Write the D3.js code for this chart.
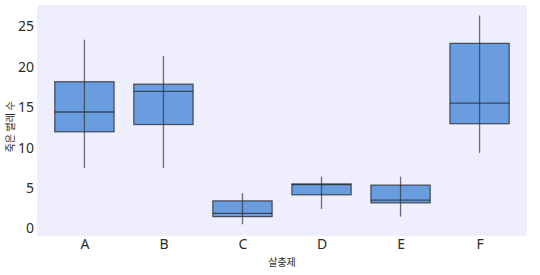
<!DOCTYPE html>
<html>
<head>
<meta charset="utf-8">
<script src="https://cdn.jsdelivr.net/npm/d3@7"></script>
<style>
  body { margin: 0; background: #fff; }
  svg text { font-family: "Noto Sans", "Noto Sans CJK KR", sans-serif; fill: #2b2b2b; }
</style>
</head>
<body>
<div id="chart"></div>
<script>
// data
const sprays = ["A", "B", "C", "D", "E", "F"];
const whiskerLow  = [7.4, 7.4, 0.45, 2.35, 1.4, 9.3];
const q1          = [11.9, 12.8, 1.4, 4.1, 3.1, 12.9];
const medians     = [14.35, 16.9, 1.8, 5.35, 3.45, 15.45];
const q3          = [18.1, 17.8, 3.35, 5.45, 5.3, 22.85];
const whiskerHigh = [23.3, 21.3, 4.3, 6.35, 6.35, 26.3];
const yTicks = [0, 5, 10, 15, 20, 25];

const data = sprays.map((s, i) => ({
    spray: s,
    lo: whiskerLow[i],
    q1: q1[i],
    med: medians[i],
    q3: q3[i],
    hi: whiskerHigh[i]
}));

const svgWidth = 540, svgHeight = 275;
const margin = {top: 5, right: 13, bottom: 39, left: 37};
const width = svgWidth - margin.left - margin.right;
const height = svgHeight - margin.top - margin.bottom;

const svg = d3.select("#chart").append("svg")
    .attr("width", svgWidth)
    .attr("height", svgHeight);

const g = svg.append("g")
    .attr("transform", `translate(${margin.left},${margin.top})`);

const x = d3.scalePoint().domain(sprays).range([0, width]).padding(0.6);
const y = d3.scaleLinear().domain([-1, 27.6]).range([height, 0]);
const boxW = x.step() * 0.75;

// background
g.append("rect")
    .attr("width", width)
    .attr("height", height)
    .attr("fill", "#eeeefd");

// axes (no lines, only labels)
const yAxis = g.append("g").call(d3.axisLeft(y).tickValues(yTicks).tickSize(0).tickPadding(3));
yAxis.select(".domain").remove();
yAxis.selectAll("text").style("font-size", "14px").attr("dy", "0.35em");

const xAxis = g.append("g")
    .attr("transform", `translate(0,${height})`)
    .call(d3.axisBottom(x).tickSize(0).tickPadding(3));
xAxis.select(".domain").remove();
xAxis.selectAll("text").style("font-size", "14px");

// boxes
const boxes = g.selectAll(".box").data(data).enter().append("g").attr("class", "box");

boxes.append("rect")
    .attr("x", d => x(d.spray) - boxW / 2)
    .attr("y", d => y(d.q3))
    .attr("width", boxW)
    .attr("height", d => y(d.q1) - y(d.q3))
    .attr("fill", "#6a9ddf")
    .attr("stroke", "#222")
    .attr("stroke-opacity", 0.75)
    .attr("stroke-width", 1.2);

boxes.append("line")
    .attr("x1", d => x(d.spray) - boxW / 2)
    .attr("x2", d => x(d.spray) + boxW / 2)
    .attr("y1", d => y(d.med))
    .attr("y2", d => y(d.med))
    .attr("stroke", "#222")
    .attr("stroke-opacity", 0.7)
    .attr("stroke-width", 1.3);

boxes.append("line")
    .attr("x1", d => x(d.spray))
    .attr("x2", d => x(d.spray))
    .attr("y1", d => y(d.lo))
    .attr("y2", d => y(d.hi))
    .attr("stroke", "#333")
    .attr("stroke-opacity", 0.7)
    .attr("stroke-width", 1.3);

// axis titles
svg.append("text")
    .attr("x", margin.left + width / 2)
    .attr("y", 266)
    .attr("text-anchor", "middle")
    .style("font-size", "10px")
    .text("살충제");

svg.append("text")
    .attr("transform", `translate(14,${margin.top + y(12.5)}) rotate(-90)`)
    .attr("text-anchor", "middle")
    .style("font-size", "10px")
    .text("죽은 벌레 수");
</script>
</body>
</html>
